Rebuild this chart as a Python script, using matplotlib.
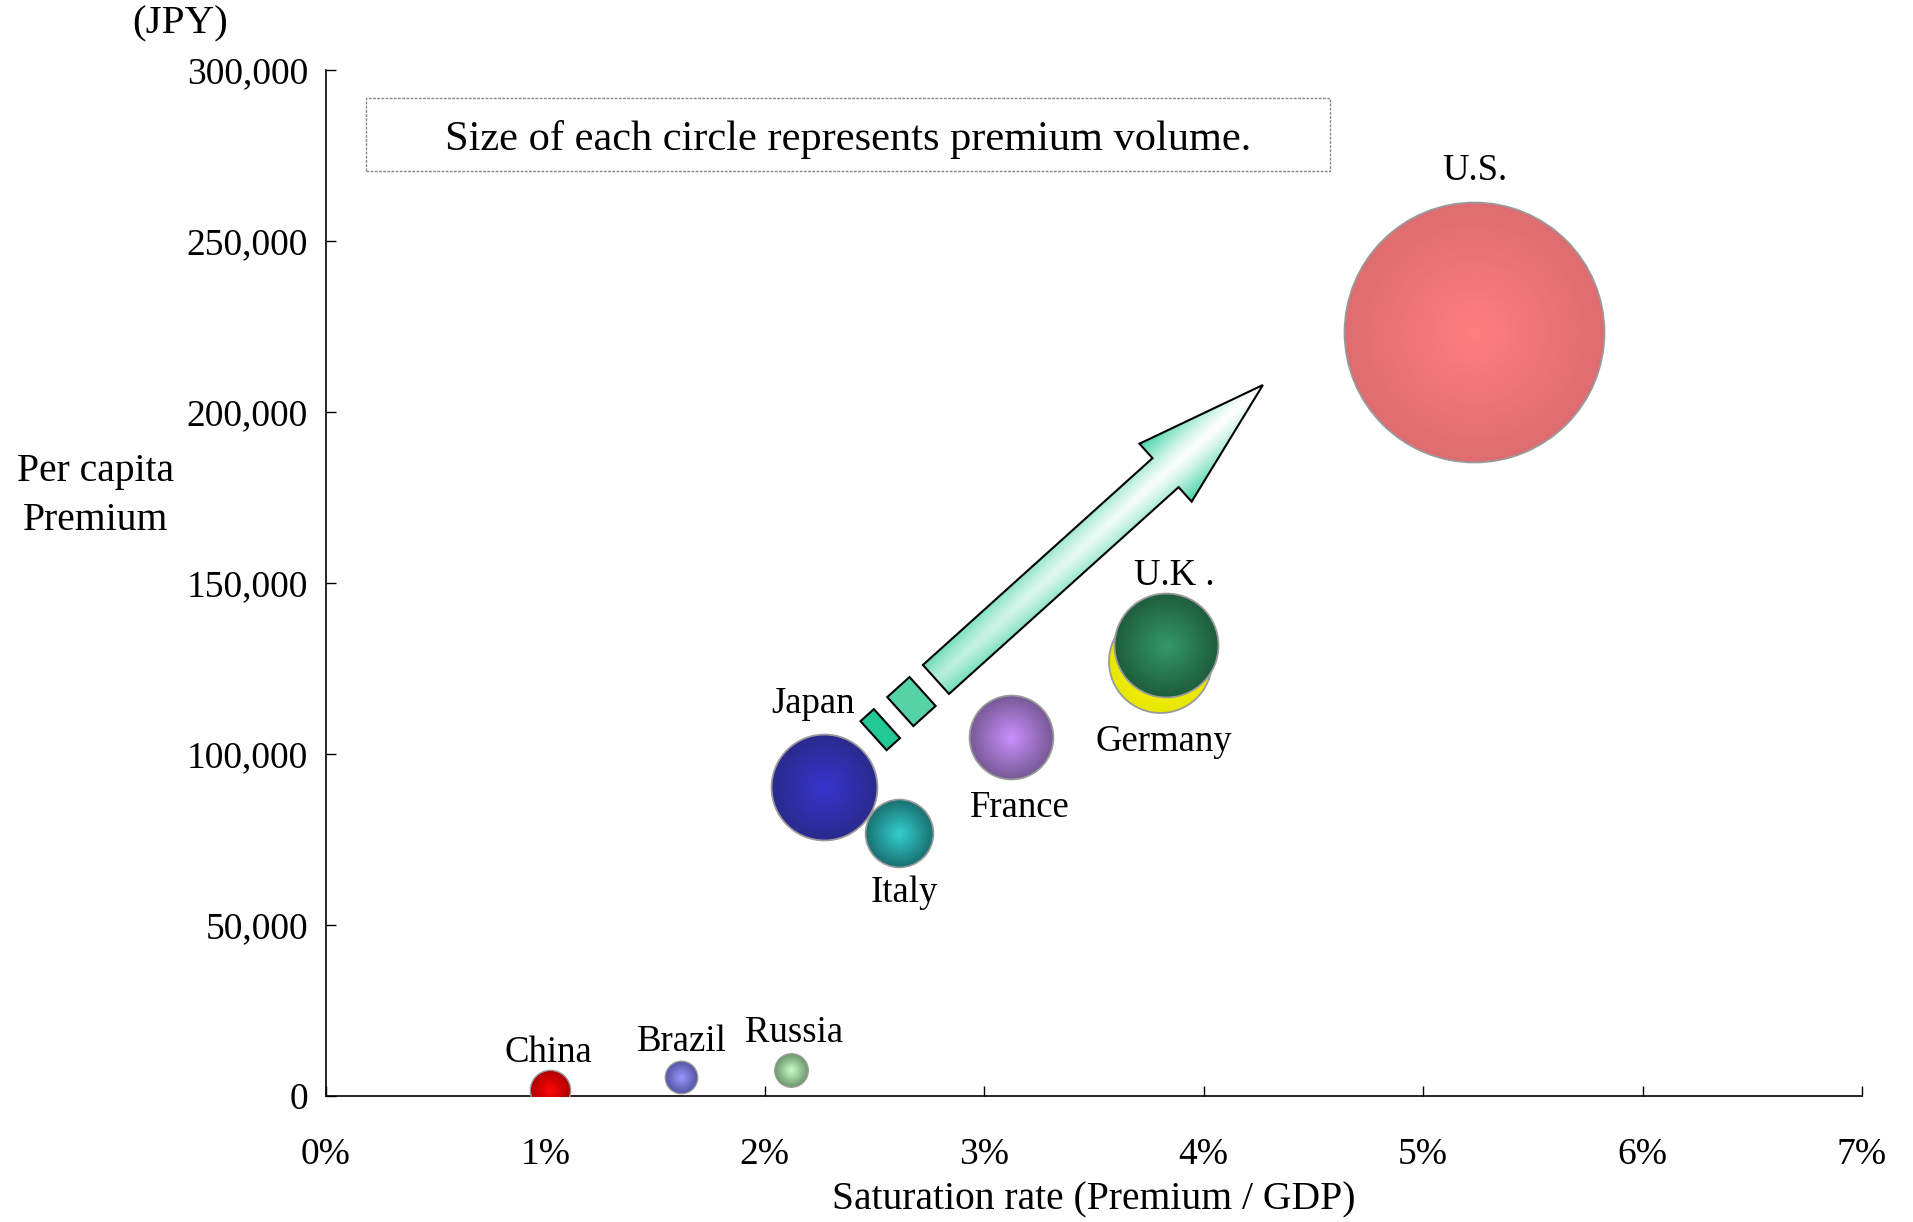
import numpy as np
import matplotlib.pyplot as plt
from matplotlib.patches import Polygon, Rectangle
from matplotlib.colors import to_rgb

plt.rcParams['font.family'] = ['Liberation Serif', 'DejaVu Serif']

# saturation rate (%), per capita premium (JPY), premium volume (JPY trillion)
countries = ['U.S.', 'Germany', 'U.K .', 'France', 'Japan', 'Italy', 'Russia', 'Brazil', 'China']
saturation = [5.23, 3.80, 3.83, 3.12, 2.27, 2.61, 2.12, 1.62, 1.02]
per_capita = [223400, 127200, 131900, 105000, 90400, 76900, 7600, 5600, 1800]
volume = [50.0, 7.85, 8.0, 5.2, 8.3, 3.4, 0.81, 0.76, 1.18]

x_ticks = [0, 1, 2, 3, 4, 5, 6, 7]
y_ticks = [0, 50000, 100000, 150000, 200000, 250000, 300000]

# sphere shading: edge colour, highlight colour
edge_col = ['#DF6C70', '#E6E600', '#1E5E3E', '#785A98', '#2A2A8E', '#197272', '#6E9A6E', '#5656A8', '#B00000']
core_col = ['#FF7E80', '#FFFF10', '#33996A', '#CC90FF', '#3535D0', '#35D0D0', '#CCFFCC', '#9A9AFF', '#FF0808']
# label offsets in points
lab_off = [(1, 116), (3, -58), (6, 50), (7, -51), (-8, 60), (4, -43), (2, 27), (0, 25), (-1, 27)]

W, H, DPI = 1913, 1222, 100
fig = plt.figure(figsize=(W / DPI, H / DPI), dpi=DPI)
fig.subplots_adjust(left=0.1704, right=0.9733, bottom=0.1031, top=0.9427)
ax = fig.add_subplot(111)

ax.set_xlim(0, 7)
ax.set_ylim(0, 300000)
ax.set_xticks(x_ticks)
ax.set_xticklabels(['%d%%' % v for v in x_ticks])
ax.set_yticks(y_ticks)
ax.set_yticklabels(['{:,}'.format(v) for v in y_ticks])
ax.tick_params(direction='in', length=7, width=1, labelsize=27)
ax.tick_params(axis='x', pad=30)
ax.tick_params(axis='y', pad=13)
for s in ['top', 'right']:
    ax.spines[s].set_visible(False)
for s in ['left', 'bottom']:
    ax.spines[s].set_linewidth(1.2)

K = 18.38  # pixels of radius per sqrt(volume)
for i in range(len(countries)):
    r_pt = K * np.sqrt(volume[i]) * 72.0 / DPI
    s_full = (2 * r_pt) ** 2
    c0 = np.array(to_rgb(edge_col[i]))
    c1 = np.array(to_rgb(core_col[i]))
    z = 3 + i * 0.01
    ax.scatter(saturation[i], per_capita[i], s=s_full, color=c0,
               edgecolors='#9A9A9A', linewidths=1.3, zorder=z)
    for f in np.linspace(0.97, 0.04, 32):
        c = c0 + (c1 - c0) * (1 - f)
        ax.scatter(saturation[i], per_capita[i], s=s_full * f ** 2, color=c,
                   linewidths=0, zorder=z)
    ax.annotate(countries[i], (saturation[i], per_capita[i]), xytext=lab_off[i],
                textcoords='offset points', ha='center', va='center', fontsize=26.5, zorder=10)

# note box
ax.add_patch(Rectangle((0.026, 0.9016), 0.6276, 0.0711, transform=ax.transAxes,
                       fill=False, edgecolor='#888888', linewidth=1.0, linestyle=(0, (2, 1))))
ax.text(0.3398, 0.932, 'Size of each circle represents premium volume.', transform=ax.transAxes,
        ha='center', va='center', fontsize=30.5)

ax.set_xlabel('Saturation rate (Premium / GDP)', fontsize=28.5, labelpad=7)
ax.set_ylabel('Per capita\nPremium', fontsize=28.5, rotation=0, ha='center', va='center', linespacing=1.43)
ax.yaxis.set_label_coords(-0.150, 0.585)
ax.text(-0.095, 1.045, '(JPY)', transform=ax.transAxes, ha='center', va='center', fontsize=29.5)

# growth arrow drawn on a pixel overlay
ov = fig.add_axes([0, 0, 1, 1], zorder=5)
ov.set_xlim(0, W)
ov.set_ylim(0, H)
ov.axis('off')
ov.patch.set_visible(False)

T = ax.transData.transform((2.78, 121800))
P = ax.transData.transform((4.27, 207900))
u = (P - T) / np.linalg.norm(P - T)
n = np.array([-u[1], u[0]])
L = np.linalg.norm(P - T)
hw, hh, hl = 19.5, 39.0, 131.0
B = P - u * hl
arrow = [T + n * hw, B + n * hw, B + n * hh, P, B - n * hh, B - n * hw, T - n * hw]

teal = np.array(to_rgb('#26CC96'))
x0, y0 = np.min(arrow, axis=0) - 2
x1, y1 = np.max(arrow, axis=0) + 2
gx, gy = np.meshgrid(np.linspace(x0, x1, 400), np.linspace(y0, y1, 400))
rel = np.stack([gx - T[0], gy - T[1]], axis=-1)
d = np.abs(rel @ n) / hh
a = np.clip(rel @ u / L, 0, 1)
t = np.clip(0.85 * d ** 1.3 + 0.35 * (1 - a) ** 2, 0, 1)
img = (1 - t)[..., None] * np.ones(3) + t[..., None] * teal
poly = Polygon(arrow, closed=True, facecolor='none', edgecolor='black', linewidth=1.5, zorder=6)
ov.add_patch(poly)
im = ov.imshow(img, extent=(x0, x1, y0, y1), origin='lower', zorder=5, aspect='auto')
im.set_clip_path(poly)

# dashes behind the arrow tail
gap = 18
for length, col in [(30, '#55D2A6'), (18, '#22C994')]:
    front = T - u * gap
    back = front - u * length
    rect = [front + n * hw, front - n * hw, back - n * hw, back + n * hw]
    ov.add_patch(Polygon(rect, closed=True, facecolor=col, edgecolor='black', linewidth=1.5, zorder=6))
    T = back

plt.savefig('out.png', dpi=DPI)
